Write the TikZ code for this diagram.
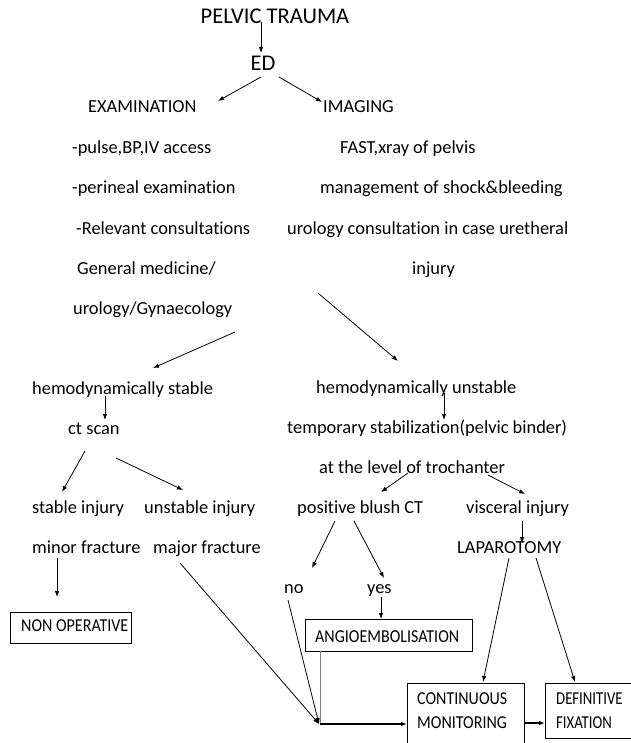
\documentclass[tikz,border=0pt]{standalone}
\usepackage{fontspec}
\setmainfont{Carlito}[Ligatures={NoCommon,NoContextual}]
\newfontfamily\boxfont{Carlito}[FakeStretch=0.88,Ligatures={NoCommon,NoContextual}]
\newfontfamily\boxfontn{Carlito}[FakeStretch=0.81,Ligatures={NoCommon,NoContextual}]
\usetikzlibrary{arrows.meta}

\tikzset{
  txt/.style={inner sep=0pt, anchor=base west, font=\fontsize{18.4}{22}\selectfont},
  head/.style={inner sep=0pt, anchor=base, font=\fontsize{22.5}{26}\selectfont},
  boxtxt/.style={inner sep=0pt, anchor=base west, font=\boxfont\fontsize{18.2}{21}\selectfont},
  boxtxtn/.style={inner sep=0pt, anchor=base west, font=\boxfontn\fontsize{18.2}{21}\selectfont},
  frame/.style={draw, line width=0.9pt},
  arr/.style={line width=0.8pt, -{Latex[length=6pt,width=4.5pt]}},
  ln/.style={line width=0.8pt},
}

\begin{document}
\begin{tikzpicture}[x=1pt,y=-1pt]
\useasboundingbox (0,0) rectangle (630,743);

% headings
\node[head] (title) at (275,24) {PELVIC TRAUMA};
\node[head] (ed) at (263,71) {ED};

% two main branches
\node[txt] (exam) at (88,113) {EXAMINATION};
\node[txt] (imag) at (323,113) {IMAGING};

\node[txt] (ex1) at (72,154) {-pulse,BP,IV access};
\node[txt] (ex2) at (72,194) {-perineal examination};
\node[txt] (ex3) at (76,234) {-Relevant consultations};
\node[txt] (ex4) at (77,274) {General medicine/};
\node[txt] (ex5) at (73,314) {urology/Gynaecology};

\node[txt] (im1) at (340,154) {FAST,xray of pelvis};
\node[txt] (im2) at (320,194) {management of shock\&bleeding};
\node[txt] (im3) at (287,234) {urology consultation in case uretheral};
\node[txt] (im4) at (412,274) {injury};

% haemodynamic status
\node[txt] (hs) at (32,394) {hemodynamically stable};
\node[txt] (ct) at (68,434) {ct scan};
\node[txt] (si) at (32,513) {stable injury};
\node[txt] (ui) at (144,513) {unstable injury};
\node[txt] (mi) at (32,553) {minor fracture};
\node[txt] (ma) at (153,553) {major fracture};

\node[txt] (hu) at (316,393) {hemodynamically unstable};
\node[txt] (ts) at (287,433) {temporary stabilization(pelvic binder)};
\node[txt] (tr) at (319,473) {at the level of trochanter};
\node[txt] (pb) at (297,513) {positive blush CT};
\node[txt] (vi) at (466,513) {visceral injury};
\node[txt] (lap) at (457,553) {LAPAROTOMY};
\node[txt] (no) at (284,593) {no};
\node[txt] (yes) at (367,593) {yes};

% boxes (the last two run past the page edge)
\draw[frame] (10,612) rectangle (131,643);
\node[boxtxt] (nonop) at (21,631) {NON OPERATIVE};
\draw[frame] (305,619) rectangle (472,651);
\node[boxtxt] (angio) at (315,642) {ANGIOEMBOLISATION};
\draw[frame] (407,748) -- (407,683) -- (524,683) -- (524,748);
\node[boxtxt] (cm1) at (417,704) {CONTINUOUS};
\node[boxtxt] (cm2) at (417,728) {MONITORING};
\draw[frame] (640,683) -- (545,683) -- (545,738) -- (640,738);
\node[boxtxtn] (df1) at (556,704) {DEFINITIVE};
\node[boxtxtn] (df2) at (556,728) {FIXATION};

% connector end points
\coordinate (tA) at (261,22);   \coordinate (tB) at (261,53);
\coordinate (eA) at (261,77);   \coordinate (eB) at (218,101);
\coordinate (eC) at (279,77);   \coordinate (eD) at (322,102);
\coordinate (xA) at (235,332);  \coordinate (xB) at (153,368);
\coordinate (iA) at (318,293);  \coordinate (iB) at (398,361);
\coordinate (hA) at (105,396);  \coordinate (hB) at (105,420);
\coordinate (uA) at (444,393);  \coordinate (uB) at (444,420);
\coordinate (cA) at (85,451);   \coordinate (cB) at (62,492);
\coordinate (cC) at (116,458);  \coordinate (cD) at (183,490);
\coordinate (rA) at (408,473);  \coordinate (rB) at (381,492);
\coordinate (rC) at (488,475);  \coordinate (rD) at (525,494);
\coordinate (vA) at (522,521);  \coordinate (vB) at (522,543);
\coordinate (pA) at (335,521);  \coordinate (pB) at (312,568);
\coordinate (pC) at (354,521);  \coordinate (pD) at (384,578);
\coordinate (yA) at (381,597);  \coordinate (yB) at (381,619);
\coordinate (mA) at (57,558);   \coordinate (mB) at (57,597);
\coordinate (jA) at (180,563);
\coordinate (nA) at (288,600);
\coordinate (gA) at (320,651);
\coordinate (junc) at (319,724);
\coordinate (cmL) at (407,724);
\coordinate (cmR) at (524,723);  \coordinate (dfL) at (545,723);
\coordinate (lA) at (509,558);  \coordinate (lB) at (483,682);
\coordinate (lC) at (536,558);  \coordinate (lD) at (575,682);

% connectors
\draw[arr] (tA) -- (tB);
\draw[arr] (eA) -- (eB);
\draw[arr] (eC) -- (eD);
\draw[arr] (xA) -- (xB);
\draw[arr] (iA) -- (iB);
\draw[arr] (hA) -- (hB);
\draw[arr] (uA) -- (uB);
\draw[arr] (cA) -- (cB);
\draw[arr] (cC) -- (cD);
\draw[arr] (rA) -- (rB);
\draw[arr] (rC) -- (rD);
\draw[arr] (vA) -- (vB);
\draw[arr] (pA) -- (pB);
\draw[arr] (pC) -- (pD);
\draw[arr] (yA) -- (yB);
\draw[arr] (mA) -- (mB);
\draw[arr] (jA) -- (junc);
\draw[arr] (nA) -- (junc);
\draw[ln, gray] (gA) -- (gA |- junc);
\draw[arr, line width=1.2pt] (gA |- junc) -- (cmL);
\draw[arr, line width=1.2pt] (cmR) -- (dfL);
\draw[arr] (lA) -- (lB);
\draw[arr] (lC) -- (lD);
\end{tikzpicture}
\end{document}
